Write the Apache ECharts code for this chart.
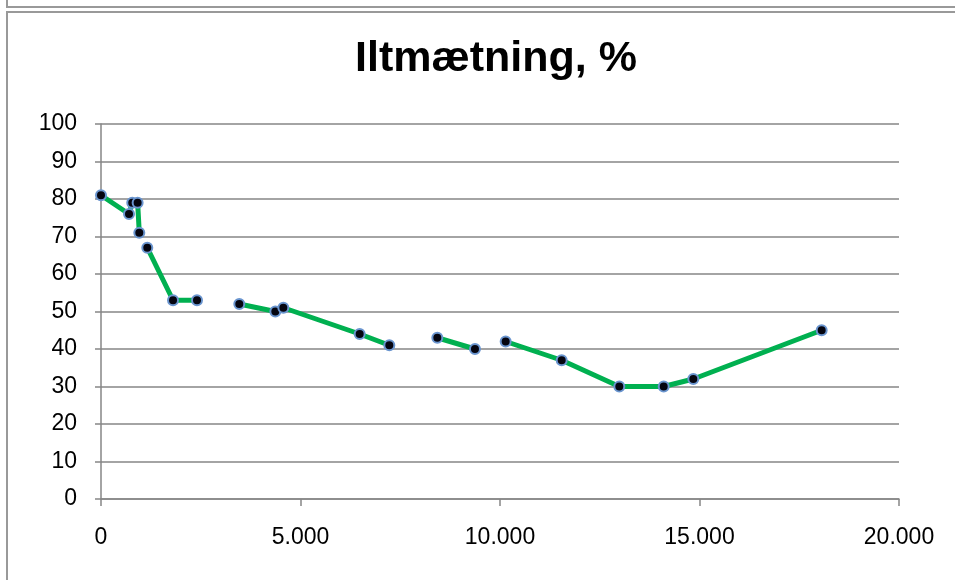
<!DOCTYPE html>
<html>
<head>
<meta charset="utf-8">
<style>
  html, body { margin: 0; padding: 0; background: #fff; }
  #chart { width: 955px; height: 580px; }
</style>
<script src="https://cdn.jsdelivr.net/npm/echarts@6/dist/echarts.min.js"></script>
</head>
<body>
<div id="chart"></div>
<script>
// Distance values (x) and oxygen saturation in % (y); '-' marks a break in the line
const distance = [0, 702, 783, 918, 960, '-', 1160, 1805, 2406, '-', 3466, 4369, 4570, 6483, 7226, '-', 8429, 9373, '-', 10142, 11546, 12990, 14103, 14845, 18062];
const saturation = [81, 76, 79, 79, 71, '-', 67, 53, 53, '-', 52, 50, 51, 44, 41, '-', 43, 40, '-', 42, 37, 30, 30, 32, 45];
const xTicks = [0, 5000, 10000, 15000, 20000];
const yTicks = [0, 10, 20, 30, 40, 50, 60, 70, 80, 90, 100];

const points = distance.map((d, i) => (d === '-' ? ['-', '-'] : [d, saturation[i]]));

const fmtThousands = v => String(v).replace(/\B(?=(\d{3})+(?!\d))/g, '.');

const chart = echarts.init(document.getElementById('chart'), null, { renderer: 'canvas' });
const FONT = 'Liberation Sans, Arial, sans-serif';
const GRAY = '#868686';

chart.setOption({
  animation: false,
  backgroundColor: '#fff',
  textStyle: { fontFamily: FONT },
  graphic: [
    // frame of the chart above
    { type: 'polyline', shape: { points: [[7, -2], [7, 7], [960, 7]] }, style: { stroke: '#999', lineWidth: 2, fill: null } },
    // frame of this chart
    { type: 'polyline', shape: { points: [[7, 590], [7, 12], [960, 12]] }, style: { stroke: '#999', lineWidth: 2, fill: null } }
  ],
  title: {
    text: 'Iltmætning, %',
    left: 491,
    top: 33,
    textAlign: 'center',
    textStyle: { fontFamily: FONT, fontWeight: 'bold', fontSize: 43, color: '#000', letterSpacing: -0.8 }
  },
  grid: { left: 101, right: 56, top: 124, bottom: 81, containLabel: false },
  xAxis: {
    type: 'value',
    min: xTicks[0],
    max: xTicks[xTicks.length - 1],
    interval: xTicks[1] - xTicks[0],
    axisLine: { show: true, lineStyle: { color: GRAY, width: 1.5 } },
    axisTick: { show: true, length: 7, lineStyle: { color: GRAY, width: 1.5 } },
    axisLabel: { formatter: fmtThousands, fontSize: 23, color: '#000', margin: 27, fontFamily: FONT },
    splitLine: { show: false }
  },
  yAxis: {
    type: 'value',
    min: yTicks[0],
    max: yTicks[yTicks.length - 1],
    interval: yTicks[1] - yTicks[0],
    axisLine: { show: true, lineStyle: { color: GRAY, width: 1.5 } },
    axisTick: { show: true, length: 6, lineStyle: { color: GRAY, width: 1.5 } },
    axisLabel: { fontSize: 23, color: '#000', margin: 24, fontFamily: FONT },
    splitLine: { show: true, lineStyle: { color: GRAY, width: 1.5 } }
  },
  series: [{
    type: 'line',
    data: points,
    connectNulls: false,
    symbol: 'circle',
    symbolSize: 10,
    showAllSymbol: true,
    lineStyle: { color: '#00B050', width: 5 },
    itemStyle: { color: '#050510', borderColor: '#6A95CF', borderWidth: 2 },
    z: 3
  }]
});
</script>
</body>
</html>
